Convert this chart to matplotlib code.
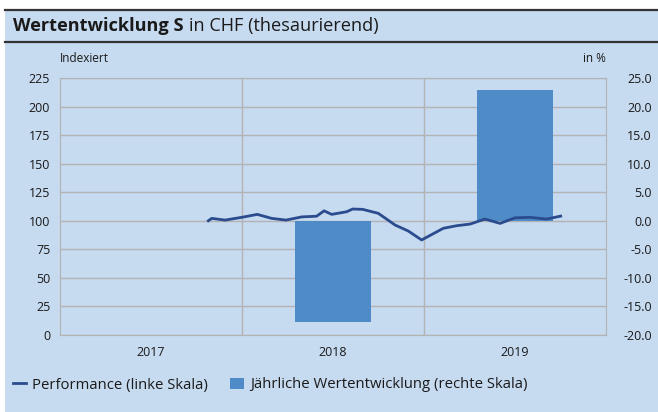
import matplotlib
matplotlib.use("Agg")
import matplotlib.pyplot as plt
import numpy as np
from matplotlib.lines import Line2D
from matplotlib.patches import Patch, Rectangle

# yearly returns (right axis, %)
years = [2017, 2018, 2019]
year_labels = ["2017", "2018", "2019"]
yearly_return = [np.nan, -17.7, 22.9]

# indexed performance (left axis), x as decimal year
perf_x = [2017.815, 2017.834, 2017.907, 2017.998, 2018.084, 2018.163, 2018.242,
          2018.328, 2018.410, 2018.451, 2018.493, 2018.575, 2018.608, 2018.663,
          2018.749, 2018.841, 2018.914, 2018.987, 2019.106, 2019.180, 2019.253,
          2019.335, 2019.418, 2019.500, 2019.582, 2019.674, 2019.751]
perf_y = [100.0, 102.1, 100.6, 103.0, 105.6, 102.1, 100.6,
          103.4, 104.0, 108.7, 105.6, 107.9, 110.3, 110.0,
          106.5, 96.3, 91.0, 83.2, 93.4, 95.7, 97.1,
          101.5, 97.7, 102.6, 103.0, 101.5, 104.1]

left_ticks = [0, 25, 50, 75, 100, 125, 150, 175, 200, 225]
right_ticks = [-20, -15, -10, -5, 0, 5, 10, 15, 20, 25]

bg = "#C6DAF0"
bar_col = "#4F8BC7"
line_col = "#2A4B8D"
grid_col = "#B3B3B3"
txt_col = "#1a1a1a"

plt.rcParams["font.family"] = ["Open Sans", "DejaVu Sans"]

W, H = 658, 412
fig = plt.figure(figsize=(W / 100, H / 100), dpi=100)
fig.patch.set_facecolor(bg)

# white margins at top and left, dark title bar rules
fig.add_artist(Rectangle((0, (H - 10) / H), 1, 10 / H, transform=fig.transFigure,
                         facecolor="white", edgecolor="none", zorder=-5))
fig.add_artist(Rectangle((0, 0), 5 / W, 1, transform=fig.transFigure,
                         facecolor="white", edgecolor="none", zorder=-5))
for yy in (10, 42):
    fig.add_artist(Line2D([5 / W, 1], [(H - yy) / H] * 2, color="#333333", lw=1.6))

t1 = fig.text(13 / W, (H - 26) / H, "Wertentwicklung S", fontsize=13.1, fontweight="bold",
              va="center", ha="left", color=txt_col)
fig.canvas.draw()
bb = t1.get_window_extent()
fig.text((bb.x1 + 5) / W, (H - 26) / H, "in CHF (thesaurierend)", fontsize=13.1,
         va="center", ha="left", color=txt_col)

ax = fig.add_axes([60 / W, (H - 335) / H, 546 / W, 257 / H])
ax.set_facecolor("none")
ax.bar([y + 0.5 for y in years], yearly_return, width=0.42, color=bar_col, zorder=2)
ax.set_ylim(-20, 25)
ax.set_xlim(2017, 2020)
ax.set_xticks([y + 0.5 for y in years])
ax.set_xticklabels(year_labels)
ax.set_yticks(right_ticks)
ax.set_yticklabels([f"{v:.1f}" for v in right_ticks])
for y in right_ticks:
    ax.axhline(y, color=grid_col, lw=1, zorder=1)
for x in (2018, 2019):
    ax.axvline(x, color=grid_col, lw=1, zorder=1)
for s in ax.spines.values():
    s.set_color(grid_col)

ax2 = ax.twinx()
ax2.plot(perf_x, perf_y, color=line_col, lw=2, zorder=3)
ax2.set_ylim(0, 225)
ax2.yaxis.tick_left()
ax2.set_yticks(left_ticks)
ax2.tick_params(length=0, labelsize=9, colors=txt_col, pad=7)
for s in ax2.spines.values():
    s.set_visible(False)

# twinx moves the first axis' ticks to the left, put them back on the right
ax.yaxis.tick_right()
ax.tick_params(length=0, labelsize=9, colors=txt_col)
ax.tick_params(axis="x", pad=8)
ax.tick_params(axis="y", pad=33)
for t in ax.yaxis.get_major_ticks():
    t.label2.set_horizontalalignment("right")

fig.text(60 / W, (H - 58) / H, "Indexiert", fontsize=8.5, va="center", ha="left", color=txt_col)
fig.text(606 / W, (H - 58) / H, "in %", fontsize=8.5, va="center", ha="right", color=txt_col)

handles = [Line2D([0], [0], color=line_col, lw=2),
           Patch(facecolor=bar_col, edgecolor="none")]
fig.legend(handles, ["Performance (linke Skala)", "Jährliche Wertentwicklung (rechte Skala)"],
           loc="center left", bbox_to_anchor=(13 / W, (H - 385) / H), ncol=2, frameon=False,
           borderpad=0, borderaxespad=0, fontsize=10.7, handlelength=0.9, handletextpad=0.4,
           columnspacing=1.5, labelcolor=txt_col)

fig.savefig("out.png", dpi=100, facecolor=fig.get_facecolor())
